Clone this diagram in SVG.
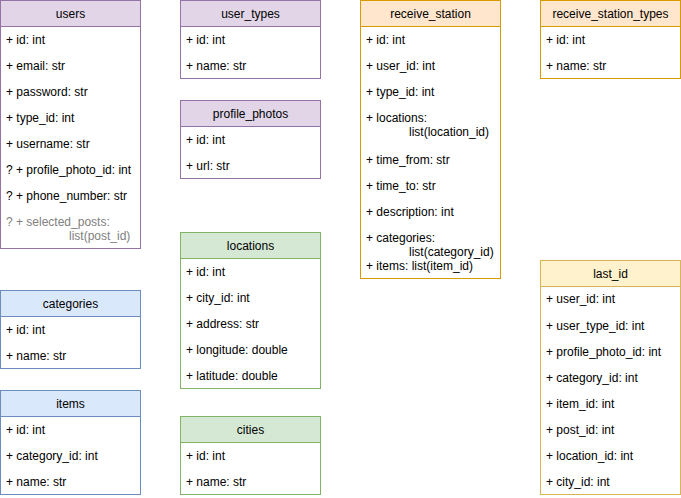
<svg xmlns="http://www.w3.org/2000/svg" width="681" height="498" viewBox="0 0 681 498">
<style>
text{font-family:"Liberation Sans",Arial,Helvetica,sans-serif;font-size:12px;fill:#000}
.h{text-anchor:middle}
.body{fill:#fff}
.purple .hd{fill:#e1d5e7;stroke:#9673a6}
.purple .body,.purple .ln{stroke:#9673a6}
.blue .hd{fill:#dae8fc;stroke:#6c8ebf}
.blue .body,.blue .ln{stroke:#6c8ebf}
.green .hd{fill:#d5e8d4;stroke:#82b366}
.green .body,.green .ln{stroke:#82b366}
.orange .hd{fill:#ffe6cc;stroke:#d79b00}
.orange .body,.orange .ln{stroke:#d79b00}
.yellow .hd{fill:#fff2cc;stroke:#d6b656}
.yellow .body,.yellow .ln{stroke:#d6b656}
.gray{fill:#808080}
</style>
<g id="connectors"></g>

<g id="users" class="purple">
<rect class="body" x="0.5" y="0.5" width="140" height="248"/>
<rect class="hd" x="0.5" y="0.5" width="140" height="26"/>
<text class="h" x="70.5" y="18">users</text>
<text x="6" y="44">+ id: int</text>
<text x="6" y="70">+ email: str</text>
<text x="6" y="96">+ password: str</text>
<text x="6" y="122">+ type_id: int</text>
<text x="6" y="148">+ username: str</text>
<text x="6" y="174">? + profile_photo_id: int</text>
<text x="6" y="200">? + phone_number: str</text>
<text class="gray" x="6" y="226">? + selected_posts:</text>
<text class="gray" x="69" y="240">list(post_id)</text>
</g>

<g id="user_types" class="purple">
<rect class="body" x="180.5" y="0.5" width="140" height="78"/>
<rect class="hd" x="180.5" y="0.5" width="140" height="26"/>
<text class="h" x="250.5" y="18">user_types</text>
<text x="186" y="44">+ id: int</text>
<text x="186" y="70">+ name: str</text>
</g>

<g id="profile_photos" class="purple">
<rect class="body" x="180.5" y="100.5" width="140" height="78"/>
<rect class="hd" x="180.5" y="100.5" width="140" height="26"/>
<text class="h" x="250.5" y="118">profile_photos</text>
<text x="186" y="144">+ id: int</text>
<text x="186" y="170">+ url: str</text>
</g>

<g id="receive_station" class="orange">
<rect class="body" x="360.5" y="0.5" width="140" height="278"/>
<rect class="hd" x="360.5" y="0.5" width="140" height="26"/>
<text class="h" x="430.5" y="18">receive_station</text>
<text x="366" y="44">+ id: int</text>
<text x="366" y="70">+ user_id: int</text>
<text x="366" y="96">+ type_id: int</text>
<text x="366" y="122">+ locations:</text>
<text x="409" y="136">list(location_id)</text>
<text x="366" y="164">+ time_from: str</text>
<text x="366" y="190">+ time_to: str</text>
<text x="366" y="216">+ description: int</text>
<text x="366" y="242">+ categories:</text>
<text x="409" y="256">list(category_id)</text>
<text x="366" y="270">+ items: list(item_id)</text>
</g>

<g id="receive_station_types" class="orange">
<rect class="body" x="540.5" y="0.5" width="140" height="78"/>
<rect class="hd" x="540.5" y="0.5" width="140" height="26"/>
<text class="h" x="610.5" y="18">receive_station_types</text>
<text x="546" y="44">+ id: int</text>
<text x="546" y="70">+ name: str</text>
</g>

<g id="categories" class="blue">
<rect class="body" x="0.5" y="290.5" width="140" height="78"/>
<rect class="hd" x="0.5" y="290.5" width="140" height="26"/>
<text class="h" x="70.5" y="308">categories</text>
<text x="6" y="334">+ id: int</text>
<text x="6" y="360">+ name: str</text>
</g>

<g id="items" class="blue">
<rect class="body" x="0.5" y="390.5" width="140" height="104"/>
<rect class="hd" x="0.5" y="390.5" width="140" height="26"/>
<text class="h" x="70.5" y="408">items</text>
<text x="6" y="434">+ id: int</text>
<text x="6" y="460">+ category_id: int</text>
<text x="6" y="486">+ name: str</text>
</g>

<g id="locations" class="green">
<rect class="body" x="180.5" y="232.5" width="140" height="156"/>
<rect class="hd" x="180.5" y="232.5" width="140" height="26"/>
<text class="h" x="250.5" y="250">locations</text>
<text x="186" y="276">+ id: int</text>
<text x="186" y="302">+ city_id: int</text>
<text x="186" y="328">+ address: str</text>
<text x="186" y="354">+ longitude: double</text>
<text x="186" y="380">+ latitude: double</text>
</g>

<g id="cities" class="green">
<rect class="body" x="180.5" y="416.5" width="140" height="78"/>
<rect class="hd" x="180.5" y="416.5" width="140" height="26"/>
<text class="h" x="250.5" y="434">cities</text>
<text x="186" y="460">+ id: int</text>
<text x="186" y="486">+ name: str</text>
</g>

<g id="last_id" class="yellow">
<rect class="body" x="540.5" y="260.5" width="140" height="234"/>
<rect class="hd" x="540.5" y="260.5" width="140" height="26"/>
<text class="h" x="610.5" y="278">last_id</text>
<text x="546" y="303">+ user_id: int</text>
<text x="546" y="330">+ user_type_id: int</text>
<text x="546" y="356">+ profile_photo_id: int</text>
<text x="546" y="382">+ category_id: int</text>
<text x="546" y="408">+ item_id: int</text>
<text x="546" y="434">+ post_id: int</text>
<text x="546" y="460">+ location_id: int</text>
<text x="546" y="486">+ city_id: int</text>
</g>
</svg>
